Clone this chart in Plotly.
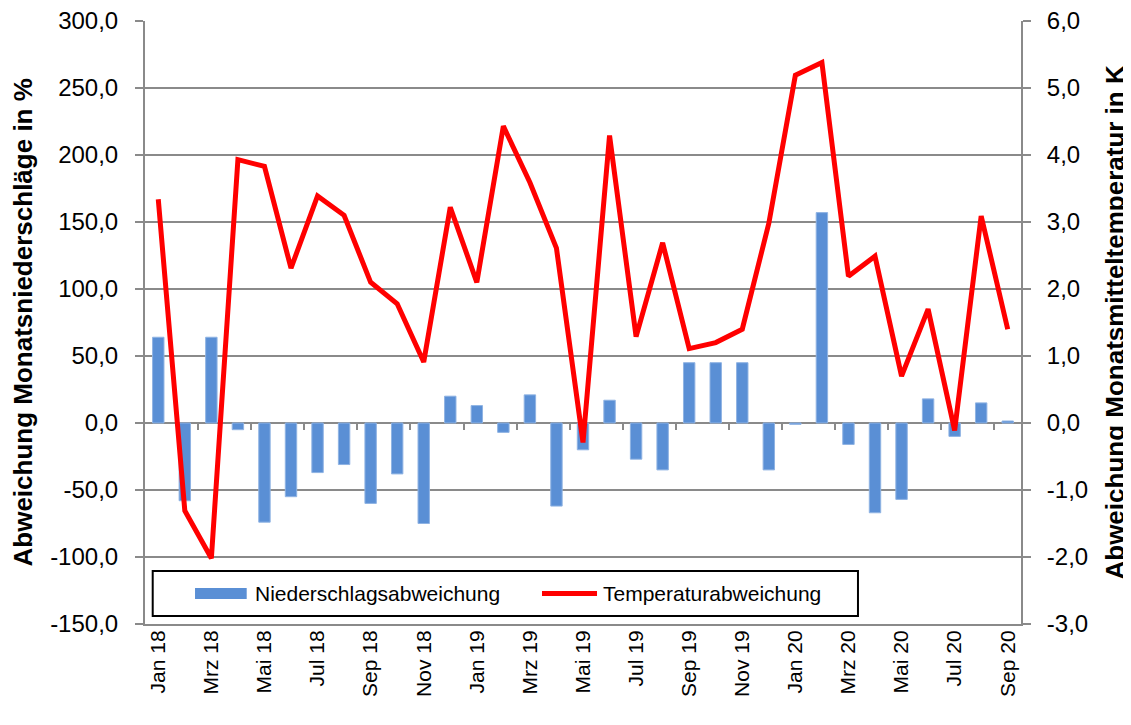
import plotly.graph_objects as go

months = ["Jan 18","Feb 18","Mrz 18","Apr 18","Mai 18","Jun 18","Jul 18","Aug 18","Sep 18","Okt 18","Nov 18","Dez 18",
          "Jan 19","Feb 19","Mrz 19","Apr 19","Mai 19","Jun 19","Jul 19","Aug 19","Sep 19","Okt 19","Nov 19","Dez 19",
          "Jan 20","Feb 20","Mrz 20","Apr 20","Mai 20","Jun 20","Jul 20","Aug 20","Sep 20"]
niederschlag = [64, -58, 64, -5, -74, -55, -37, -31, -60, -38, -75, 20,
                13, -7, 21, -62, -20, 17, -27, -35, 45, 45, 45, -35,
                -1, 157, -16, -67, -57, 18, -10, 15, 1.5]
temperatur = [3.34, -1.31, -2.02, 3.93, 3.83, 2.31, 3.39, 3.10, 2.10, 1.78, 0.91, 3.22,
              2.10, 4.43, 3.59, 2.61, -0.29, 4.29, 1.29, 2.69, 1.11, 1.20, 1.40, 2.98,
              5.19, 5.38, 2.19, 2.49, 0.70, 1.70, -0.11, 3.09, 1.40]
left_ticks = [-150, -100, -50, 0, 50, 100, 150, 200, 250, 300]
left_labels = ["-150,0", "-100,0", "-50,0", "0,0", "50,0", "100,0", "150,0", "200,0", "250,0", "300,0"]
right_ticks = [-3, -2, -1, 0, 1, 2, 3, 4, 5, 6]
right_labels = ["-3,0", "-2,0", "-1,0", "0,0", "1,0", "2,0", "3,0", "4,0", "5,0", "6,0"]
name_bar = "Niederschlagsabweichung"
name_line = "Temperaturabweichung"
title_left = "Abweichung Monatsniederschläge in %"
title_right = "Abweichung Monatsmitteltemperatur in K"

FONT = "Liberation Sans, Arial, sans-serif"
GRID = "#8a8a8a"
BLUE = "#5a8fd5"
RED = "#ff0000"

fig = go.Figure()
fig.add_trace(go.Bar(x=months, y=niederschlag, name=name_bar,
                     marker=dict(color=BLUE, line=dict(color="#8fb3e3", width=1)), showlegend=False))
fig.add_trace(go.Scatter(x=months, y=temperatur, name=name_line, mode="lines", yaxis="y2",
                         line=dict(color=RED, width=5), showlegend=False))
# helper invisible trace for the tick-mark axis at zero
fig.add_trace(go.Scatter(x=[0], y=[0], xaxis="x2", mode="markers", marker=dict(opacity=0),
                         showlegend=False, hoverinfo="skip"))

fig.update_layout(
    width=1123, height=717,
    margin=dict(l=137, r=110, t=13, b=101, pad=0),
    paper_bgcolor="white", plot_bgcolor="white",
    font=dict(family=FONT, size=20, color="black"),
    bargap=0.57,
    xaxis=dict(type="category", range=[-0.5, 32.5], tickvals=months[::2], tickangle=-90,
               showgrid=False, showline=True, linecolor=GRID, linewidth=2, ticks="", automargin=False,
               ticklabelstandoff=-4, tickfont=dict(size=21)),
    xaxis2=dict(overlaying="x", anchor="free", position=1/3, side="bottom", range=[-0.5, 32.5],
                tickvals=[i + 0.5 for i in range(1, 32, 2)], ticks="outside", ticklen=6, tickwidth=1.5,
                tickcolor=GRID, showticklabels=False, showgrid=False, showline=False, zeroline=False,
                automargin=False),
    yaxis=dict(range=[-150, 300], tickvals=left_ticks, ticktext=left_labels, showgrid=True, gridcolor=GRID,
               gridwidth=2, zeroline=True, zerolinecolor=GRID, zerolinewidth=2, showline=True, linecolor=GRID,
               linewidth=2, ticks="outside", ticklen=8, tickcolor=GRID, tickwidth=2, automargin=False,
               ticklabelstandoff=12, ticklabeloverflow="allow", tickfont=dict(size=24)),
    yaxis2=dict(range=[-3, 6], overlaying="y", side="right", tickvals=right_ticks, ticktext=right_labels,
                showgrid=False, zeroline=False, showline=True, linecolor=GRID, linewidth=2,
                ticks="outside", ticklen=8, tickcolor=GRID, tickwidth=2, automargin=False,
                ticklabelstandoff=11, ticklabeloverflow="allow", tickfont=dict(size=24)),
)

# axis titles
fig.add_annotation(xref="paper", yref="paper", x=-0.1393, y=0.5, text="<b>" + title_left + "</b>",
                   textangle=-90, showarrow=False, xanchor="center", yanchor="middle", font=dict(size=26))
fig.add_annotation(xref="paper", yref="paper", x=1.1062, y=0.5, text="<b>" + title_right + "</b>",
                   textangle=-90, showarrow=False, xanchor="center", yanchor="middle", font=dict(size=26))

# legend box (manual)
fig.add_shape(type="rect", xref="paper", yref="paper", x0=0.0088, x1=0.8139, y0=0.0133, y1=0.0879,
              line=dict(color="black", width=2), fillcolor="white", layer="above")
fig.add_shape(type="rect", xref="paper", yref="paper", x0=0.0571, x1=0.1161, y0=0.0415, y1=0.0597,
              line=dict(width=0), fillcolor=BLUE, layer="above")
fig.add_shape(type="line", xref="paper", yref="paper", x0=0.4532, x1=0.5160, y0=0.0506, y1=0.0506,
              line=dict(color=RED, width=5), layer="above")
fig.add_annotation(xref="paper", yref="paper", x=0.1230, y=0.0506, text=name_bar, showarrow=False,
                   xanchor="left", yanchor="middle", font=dict(size=21))
fig.add_annotation(xref="paper", yref="paper", x=0.5201, y=0.0506, text=name_line, showarrow=False,
                   xanchor="left", yanchor="middle", font=dict(size=21))

fig.write_html("out.html")
